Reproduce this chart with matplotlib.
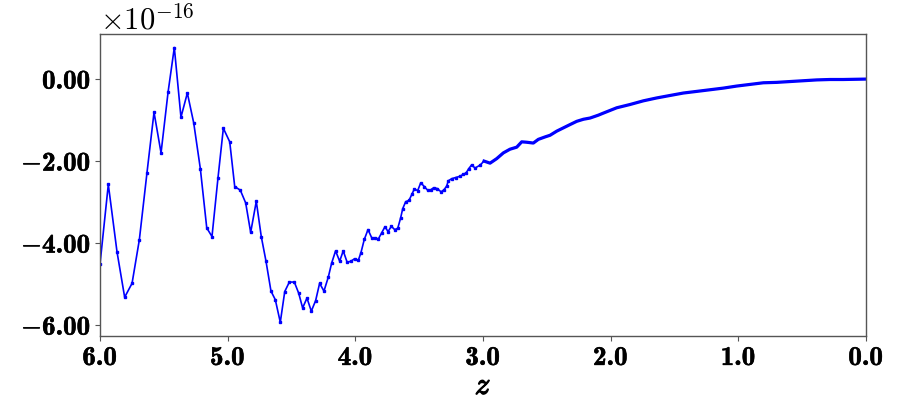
import numpy as np
import matplotlib
matplotlib.use("Agg")
import matplotlib.pyplot as plt
import matplotlib.patheffects as pe
from matplotlib.ticker import FuncFormatter

plt.rcParams['mathtext.fontset'] = 'custom'
plt.rcParams['mathtext.rm'] = 'cmr10'
plt.rcParams['mathtext.it'] = 'cmmi10'
plt.rcParams['mathtext.bf'] = 'cmb10'
plt.rcParams['mathtext.cal'] = 'cmsy10'
plt.rcParams['mathtext.fallback'] = 'cm'

# sparse high-z part (individual markers visible)
z_coarse = [6.000, 5.935, 5.867, 5.807, 5.749, 5.692, 5.632, 5.577, 5.522, 5.467,
            5.418, 5.366, 5.316, 5.266, 5.214, 5.164, 5.123, 5.076, 5.034, 4.984,
            4.945, 4.901, 4.859, 4.820, 4.776, 4.737, 4.700, 4.661, 4.627, 4.588,
            4.553, 4.517, 4.478, 4.444, 4.413, 4.379, 4.345, 4.311, 4.280, 4.246,
            4.212, 4.186, 4.155, 4.123, 4.095, 4.064, 4.034, 4.006, 3.977, 3.956,
            3.930, 3.901, 3.872, 3.846, 3.820, 3.794, 3.768, 3.744, 3.718, 3.692,
            3.668, 3.645, 3.629, 3.606, 3.580, 3.556, 3.538, 3.512, 3.488, 3.460,
            3.434, 3.410, 3.387, 3.358, 3.329, 3.306, 3.285, 3.272, 3.246, 3.214,
            3.180, 3.154, 3.133, 3.113, 3.089, 3.063, 3.024]
v_coarse = [-4.52, -2.58, -4.22, -5.33, -4.99, -3.93, -2.29, -0.82, -1.81, -0.33,
            0.76, -0.94, -0.35, -1.08, -2.20, -3.64, -3.85, -2.42, -1.21, -1.54,
            -2.63, -2.72, -3.03, -3.75, -2.99, -3.85, -4.45, -5.18, -5.39, -5.94,
            -5.19, -4.96, -4.96, -5.23, -5.59, -5.35, -5.67, -5.41, -4.99, -5.18,
            -4.84, -4.50, -4.20, -4.45, -4.20, -4.48, -4.45, -4.39, -4.43, -4.24,
            -3.92, -3.68, -3.88, -3.88, -3.91, -3.76, -3.61, -3.73, -3.60, -3.68,
            -3.65, -3.39, -3.17, -3.00, -2.97, -2.81, -2.69, -2.73, -2.54, -2.63,
            -2.72, -2.71, -2.66, -2.68, -2.76, -2.71, -2.62, -2.49, -2.44, -2.41,
            -2.38, -2.33, -2.30, -2.20, -2.10, -2.18, -2.11]

# dense low-z part (markers merge into a thick line)
z_fine = [2.992, 2.945, 2.893, 2.841, 2.789, 2.736, 2.697, 2.658, 2.606, 2.567,
          2.514, 2.475, 2.423, 2.371, 2.319, 2.266, 2.214, 2.162, 2.097, 2.058,
          1.953, 1.849, 1.744, 1.640, 1.536, 1.431, 1.326, 1.222, 1.118, 1.013,
          0.909, 0.805, 0.700, 0.596, 0.491, 0.386, 0.282, 0.178, 0.000]
v_fine = [-2.01, -2.06, -1.95, -1.81, -1.72, -1.67, -1.54, -1.55, -1.57, -1.48,
          -1.42, -1.38, -1.28, -1.20, -1.12, -1.04, -0.99, -0.96, -0.89, -0.84,
          -0.71, -0.63, -0.54, -0.47, -0.41, -0.35, -0.31, -0.27, -0.23, -0.18,
          -0.14, -0.10, -0.09, -0.07, -0.05, -0.03, -0.02, -0.02, -0.01]

scale = 1e-16
z_all = np.array(z_coarse + z_fine)
v_all = np.array(v_coarse + v_fine) * scale

fig = plt.figure(figsize=(8.97, 4.14), dpi=100)
ax = fig.add_axes([0.1115, 0.186, 0.854, 0.730])

ax.plot(z_all, v_all, color='#0000ff', lw=1.2, marker='s', ms=1.6,
        markevery=list(range(len(z_coarse))))
ax.plot(z_fine, np.array(v_fine) * scale, color='#0000ff', lw=2.3)

ax.set_xlim(6, 0)
ax.set_xticks([6, 5, 4, 3, 2, 1, 0])
ax.set_yticks(np.array([-6, -4, -2, 0]) * scale)
ax.xaxis.set_major_formatter(FuncFormatter(lambda x, p: r'$\mathbf{%.1f}$' % x))
ax.yaxis.set_major_formatter(FuncFormatter(lambda y, p: r'$\mathbf{%.2f}$' % (y / scale + 0.0)))
ax.tick_params(labelsize=19.5, length=3.5, width=0.8, color='#555555', pad=3)
for lbl in ax.get_xticklabels() + ax.get_yticklabels():
    lbl.set_path_effects([pe.withStroke(linewidth=0.4, foreground='black')])
for s in ax.spines.values():
    s.set_color('#555555')
    s.set_linewidth(1.0)

ax.text(0.0, 1.0, r'$\times10^{-16}$', transform=ax.transAxes, fontsize=22,
        ha='left', va='bottom')
ax.set_xlabel(r'$z$', fontsize=22, labelpad=0,
              path_effects=[pe.withStroke(linewidth=1.0, foreground='black')])

fig.savefig("out.png", dpi=100)
